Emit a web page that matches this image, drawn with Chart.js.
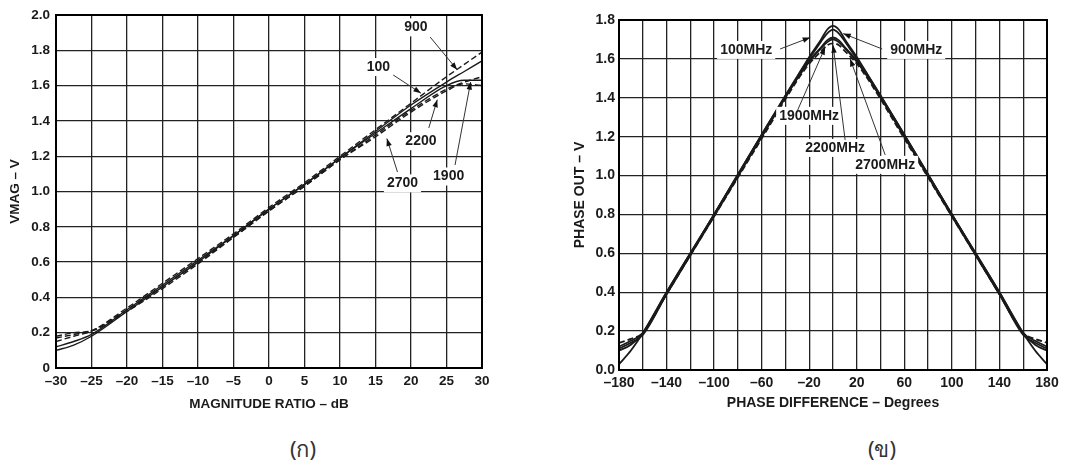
<!DOCTYPE html>
<html>
<head>
<meta charset="utf-8">
<script src="https://cdn.jsdelivr.net/npm/chart.js@4.4.1/dist/chart.umd.min.js"></script>
<style>
  html, body { margin: 0; padding: 0; background: #fff; }
  body { width: 1079px; height: 462px; position: relative; overflow: hidden; }
  .box { position: absolute; top: 0; height: 412px; }
  #left { left: 0; width: 540px; }
  #right { left: 540px; width: 539px; }
  .cap {
    position: absolute; top: 432px; font-family: "Noto Sans", "DejaVu Sans", sans-serif;
    font-size: 22px; color: #333; transform: translateX(-50%);
  }
</style>
</head>
<body>
<div class="box" id="left"><canvas id="vmag"></canvas></div>
<div class="box" id="right"><canvas id="phase"></canvas></div>
<div class="cap" style="left:303px">(ก)</div>
<div class="cap" style="left:882px">(ข)</div>
<script>
// --- (ก) VMAG vs magnitude ratio ---
const magX = [-30, -27.5, -25, -20, -15, -10, -5, 0, 5, 10, 15, 20, 25, 27.5, 30];
const vmag100 = [0.15, 0.18, 0.21, 0.34, 0.48, 0.62, 0.76, 0.91, 1.05, 1.20, 1.35, 1.50, 1.65, 1.72, 1.79];
const vmag900 = [0.12, 0.15, 0.19, 0.33, 0.47, 0.61, 0.75, 0.90, 1.04, 1.19, 1.34, 1.49, 1.62, 1.68, 1.74];
const vmag1900 = [0.10, 0.13, 0.18, 0.32, 0.46, 0.60, 0.75, 0.90, 1.04, 1.19, 1.33, 1.47, 1.60, 1.63, 1.63];
const vmag2200 = [0.17, 0.19, 0.21, 0.33, 0.46, 0.60, 0.74, 0.89, 1.03, 1.18, 1.32, 1.46, 1.58, 1.62, 1.65];
const vmag2700 = [0.18, 0.20, 0.21, 0.32, 0.45, 0.59, 0.74, 0.89, 1.03, 1.18, 1.31, 1.45, 1.57, 1.61, 1.60];

// --- (ข) phase out vs phase difference ---
const phaseX = [-180, -170, -160, -140, -100, -60, -30, -20, -10, -5, 0, 5, 10, 20, 30, 60, 100, 140, 160, 170, 180];
const phase100 = [0.03, 0.10, 0.19, 0.40, 0.80, 1.21, 1.51, 1.61, 1.70, 1.75, 1.77, 1.75, 1.70, 1.61, 1.51, 1.21, 0.80, 0.40, 0.19, 0.10, 0.03];
const phase900 = [0.10, 0.13, 0.19, 0.40, 0.80, 1.21, 1.51, 1.60, 1.69, 1.73, 1.75, 1.73, 1.69, 1.60, 1.51, 1.21, 0.80, 0.40, 0.19, 0.13, 0.10];
const phase1900 = [0.11, 0.14, 0.18, 0.39, 0.80, 1.20, 1.50, 1.59, 1.66, 1.695, 1.71, 1.695, 1.66, 1.59, 1.50, 1.20, 0.80, 0.39, 0.18, 0.14, 0.11];
const phase2200 = [0.12, 0.15, 0.19, 0.39, 0.79, 1.20, 1.50, 1.585, 1.655, 1.685, 1.70, 1.685, 1.655, 1.585, 1.50, 1.20, 0.79, 0.39, 0.19, 0.15, 0.12];
const phase2700 = [0.14, 0.16, 0.19, 0.39, 0.79, 1.19, 1.49, 1.575, 1.64, 1.67, 1.68, 1.67, 1.64, 1.575, 1.49, 1.19, 0.79, 0.39, 0.19, 0.16, 0.14];

// callouts: label position and arrow (from -> tip), in data units
const magNotes = [
  { text: '900', x: 20.7, y: 1.93, ax: 22.7, ay: 1.875, tx: 26.5, ty: 1.69 },
  { text: '100', x: 15.4, y: 1.705, ax: 17.5, ay: 1.66, tx: 21.4, ty: 1.557 },
  { text: '2200', x: 21.4, y: 1.285, ax: 22.5, ay: 1.36, tx: 23.7, ty: 1.52 },
  { text: '2700', x: 18.8, y: 1.046, ax: 18.1, ay: 1.11, tx: 16.6, ty: 1.30 },
  { text: '1900', x: 25.3, y: 1.085, ax: 26.2, ay: 1.15, tx: 28.4, ty: 1.62 },
];
const phaseNotes = [
  { text: '100MHz', x: -73, y: 1.646, ax: -44.5, ay: 1.651, tx: -19.2, ty: 1.71 },
  { text: '900MHz', x: 70, y: 1.646, ax: 41.4, ay: 1.651, tx: 8.6, ty: 1.73 },
  { text: '1900MHz', x: -20.1, y: 1.307, ax: -30.2, ay: 1.33, tx: -6.6, ty: 1.66 },
  { text: '2200MHz', x: 1.8, y: 1.142, ax: 10.2, ay: 1.183, tx: 0.1, ty: 1.67 },
  { text: '2700MHz', x: 43.9, y: 1.055, ax: 43.9, ay: 1.106, tx: 14.4, ty: 1.60 },
];

const FONT = '"Liberation Sans", Arial, sans-serif';
const INK = '#1a1a1a';

const pts = (xs, ys) => xs.map((x, i) => ({ x, y: ys[i] }));
const line = (xs, ys, dashed, w) => ({
  data: pts(xs, ys),
  borderColor: INK,
  borderWidth: w,
  borderDash: dashed ? [6, 3] : [],
  pointRadius: 0,
  fill: false,
  cubicInterpolationMode: 'monotone',
});
const dash = (s) => s.replace('-', '–');

// frame + callout arrows
const extras = {
  id: 'extras',
  afterDatasetsDraw(c, args, opts) {
    const { ctx, chartArea: a, scales: { x, y } } = c;
    ctx.save();
    ctx.strokeStyle = '#000';
    ctx.lineWidth = 2;
    ctx.strokeRect(a.left, a.top, a.right - a.left, a.bottom - a.top);
    ctx.font = `bold ${opts.size}px ${FONT}`;
    ctx.textAlign = 'center';
    ctx.textBaseline = 'middle';
    opts.notes.forEach((n) => {
      const px = x.getPixelForValue(n.x);
      const py = y.getPixelForValue(n.y);
      const w = ctx.measureText(n.text).width;
      ctx.fillStyle = '#fff';
      ctx.fillRect(px - w / 2 - 3, py - opts.size / 2 - 2, w + 6, opts.size + 4);
      ctx.fillStyle = INK;
      ctx.fillText(n.text, px, py);
      const x0 = x.getPixelForValue(n.ax);
      const y0 = y.getPixelForValue(n.ay);
      const x1 = x.getPixelForValue(n.tx);
      const y1 = y.getPixelForValue(n.ty);
      ctx.strokeStyle = '#333';
      ctx.lineWidth = 1;
      ctx.beginPath();
      ctx.moveTo(x0, y0);
      ctx.lineTo(x1, y1);
      ctx.stroke();
      const ang = Math.atan2(y1 - y0, x1 - x0);
      ctx.beginPath();
      ctx.moveTo(x1, y1);
      ctx.lineTo(x1 - 8 * Math.cos(ang - 0.35), y1 - 8 * Math.sin(ang - 0.35));
      ctx.lineTo(x1 - 8 * Math.cos(ang + 0.35), y1 - 8 * Math.sin(ang + 0.35));
      ctx.closePath();
      ctx.fillStyle = '#111';
      ctx.fill();
    });
    ctx.restore();
  },
};

const makeChart = (id, cfg) => new Chart(document.getElementById(id), {
  type: 'line',
  data: { datasets: cfg.datasets },
  options: {
    responsive: true,
    maintainAspectRatio: false,
    animation: false,
    layout: { padding: cfg.pad },
    plugins: {
      legend: { display: false },
      tooltip: { enabled: false },
      extras: { notes: cfg.notes, size: cfg.noteSize },
    },
    scales: {
      x: {
        type: 'linear',
        min: cfg.xMin,
        max: cfg.xMax,
        afterFit: (s) => { s.height = cfg.xH; },
        ticks: {
          stepSize: cfg.xStep,
          autoSkip: false,
          maxRotation: 0,
          padding: 5,
          color: INK,
          font: { family: FONT, weight: 'bold', size: cfg.fs },
          callback: cfg.xLabel,
        },
        grid: { color: '#222', lineWidth: 1.3, drawTicks: false },
        border: { display: false },
        title: {
          display: true,
          text: cfg.xTitle,
          color: INK,
          padding: { top: 0, bottom: 0 },
          font: { family: FONT, weight: 'bold', size: cfg.fs },
        },
      },
      y: {
        min: 0,
        max: cfg.yMax,
        afterFit: (s) => { s.width = cfg.yW; },
        ticks: {
          stepSize: 0.2,
          padding: cfg.yPad,
          color: INK,
          font: { family: FONT, weight: 'bold', size: cfg.fs },
          callback: cfg.yLabel,
        },
        grid: { color: '#222', lineWidth: 1.3, drawTicks: false },
        border: { display: false },
        title: {
          display: true,
          text: cfg.yTitle,
          color: INK,
          padding: { top: cfg.yTitlePad, bottom: 0 },
          font: { family: FONT, weight: 'bold', size: cfg.fs },
        },
      },
    },
  },
  plugins: [extras],
});

makeChart('vmag', {
  datasets: [
    line(magX, vmag100, true, 1.4),
    line(magX, vmag900, false, 1.4),
    line(magX, vmag1900, false, 1.4),
    line(magX, vmag2200, true, 1.4),
    line(magX, vmag2700, true, 1.4),
  ],
  notes: magNotes,
  noteSize: 14,
  pad: { left: 0, top: 15, right: 58, bottom: 0 },
  xMin: -30, xMax: 30, xStep: 5, xH: 44, yW: 56, yMax: 2, yPad: 6, yTitlePad: 7, fs: 13.5,
  xTitle: 'MAGNITUDE RATIO – dB',
  yTitle: 'VMAG – V',
  xLabel: (v) => dash(String(v)),
  yLabel: (v) => (v === 0 ? '0' : v.toFixed(1)),
});

makeChart('phase', {
  datasets: [
    line(phaseX, phase100, false, 1.8),
    line(phaseX, phase900, false, 1.8),
    line(phaseX, phase1900, false, 1.8),
    line(phaseX, phase2200, false, 1.8),
    line(phaseX, phase2700, true, 1.8),
  ],
  notes: phaseNotes,
  noteSize: 14,
  pad: { left: 0, top: 20, right: 32, bottom: 0 },
  xMin: -180, xMax: 180, xStep: 20, xH: 42, yW: 79, yMax: 1.8, yPad: 4, yTitlePad: 32, fs: 14,
  xTitle: 'PHASE DIFFERENCE – Degrees',
  yTitle: 'PHASE OUT – V',
  xLabel: (v) => ((v + 180) % 40 === 0 ? dash(String(v)) : ''),
  yLabel: (v) => v.toFixed(1),
});
</script>
</body>
</html>
